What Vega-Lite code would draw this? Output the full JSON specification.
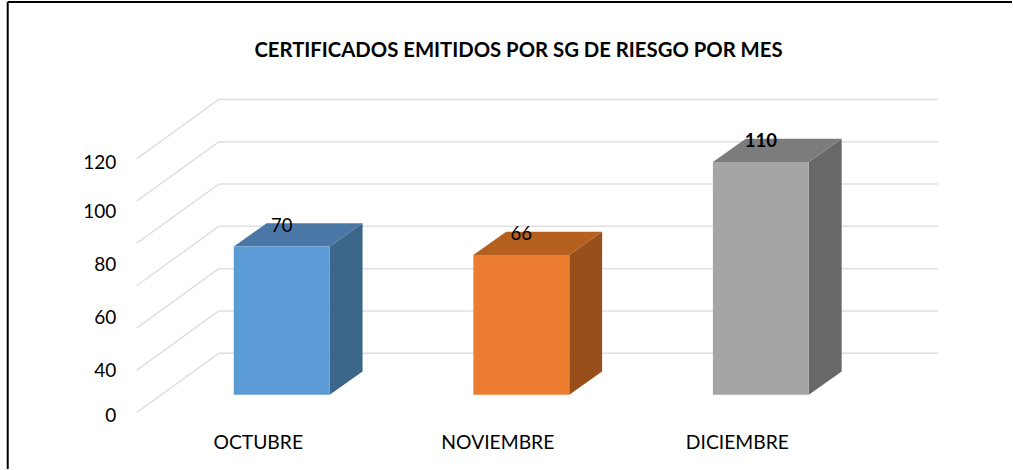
{"$schema":"https://vega.github.io/schema/vega-lite/v6.json","width":1013,"height":470,"autosize":{"type":"fit","contains":"padding"},"padding":0,"background":"white","title":{"text":"CERTIFICADOS EMITIDOS POR  SG DE RIESGO POR MES","anchor":"middle","frame":"group","offset":-61,"dx":12.5,"font":"Lato","fontSize":20.3,"fontWeight":"bold","color":"#000000"},"config":{"view":{"stroke":null}},"datasets":{"barras":[{"mes":"OCTUBRE","pos":1,"valor":70},{"mes":"NOVIEMBRE","pos":2,"valor":66},{"mes":"DICIEMBRE","pos":3,"valor":110}],"rejilla":[{"nivel":0},{"nivel":20},{"nivel":40},{"nivel":60},{"nivel":80},{"nivel":100},{"nivel":120}]},"resolve":{"scale":{"color":"independent"}},"layer":[{"data":{"name":"rejilla"},"transform":[{"calculate":"datum.nivel+19.57","as":"atras"}],"mark":{"type":"rule","color":"#E0E0E0","strokeWidth":1.5},"encoding":{"x":{"datum":0.7373,"type":"quantitative","scale":{"domain":[-0.176,4.0483],"nice":false,"zero":false},"title":null,"axis":{"title":null,"values":[0.9,1.9,2.9],"labelExpr":"{'0.9':'OCTUBRE','1.9':'NOVIEMBRE','2.9':'DICIEMBRE'}[datum.value]","domain":false,"ticks":false,"grid":false,"offset":-27,"labelPadding":0,"labelBaseline":"middle","labelFont":"Lato","labelFontSize":19.3,"labelColor":"#000000","labelOverlap":false,"labelFlush":false}},"x2":{"datum":3.7398},"y":{"field":"atras","type":"quantitative","scale":{"domain":[-35.15,186.6],"nice":false,"zero":false},"title":null,"axis":{"title":null,"values":[-9.74,11.35,36.4,61.5,86.5,109.7],"labelExpr":"{'-9.74':'0','11.35':'40','36.4':'60','61.5':'80','86.5':'100','109.7':'120'}[datum.value]","domain":false,"ticks":false,"grid":false,"offset":-136.7,"labelPadding":21,"labelFont":"Lato","labelFontSize":19,"labelColor":"#000000","labelOverlap":false,"labelFlush":false}}}},{"data":{"name":"rejilla"},"transform":[{"calculate":"datum.nivel-8.5","as":"frente"},{"calculate":"datum.nivel+19.57","as":"atras"}],"mark":{"type":"rule","color":"#E0E0E0","strokeWidth":1.5},"encoding":{"x":{"datum":0.3941,"type":"quantitative","title":null},"x2":{"datum":0.7373},"y":{"field":"frente","type":"quantitative","title":null},"y2":{"field":"atras"}}},{"data":{"values":[{"x":-0.1438,"y":185.65}]},"mark":{"type":"rule","color":"#000000","strokeWidth":2},"encoding":{"x":{"field":"x","type":"quantitative","title":null},"x2":{"datum":4.0483},"y":{"field":"y","type":"quantitative","title":null}}},{"data":{"values":[{"x":-0.1438,"y":185.65}]},"mark":{"type":"rule","color":"#000000","strokeWidth":2},"encoding":{"x":{"field":"x","type":"quantitative","title":null},"y":{"field":"y","type":"quantitative","title":null},"y2":{"datum":-35.15}}},{"data":{"name":"barras"},"transform":[{"calculate":"[0,1]","as":"t"},{"flatten":["t"]},{"calculate":"datum.pos+0.2002+0.1371*datum.t","as":"xl"},{"calculate":"datum.valor+11*datum.t","as":"sup"},{"calculate":"11*datum.t","as":"inf"}],"mark":{"type":"area","opacity":1},"encoding":{"x":{"field":"xl","type":"quantitative","title":null},"y":{"field":"sup","type":"quantitative","stack":null,"title":null},"y2":{"field":"inf"},"color":{"field":"mes","type":"nominal","legend":null,"scale":{"domain":["OCTUBRE","NOVIEMBRE","DICIEMBRE"],"range":["#3C6689","#994F1C","#686868"]}}}},{"data":{"name":"barras"},"transform":[{"calculate":"[0,1]","as":"t"},{"flatten":["t"]},{"calculate":"datum.pos-0.2002+0.1371*datum.t","as":"xa"},{"calculate":"datum.pos+0.2002+0.1371*datum.t","as":"xb"},{"calculate":"datum.valor+11*datum.t","as":"sup"}],"mark":{"type":"area","orient":"horizontal","opacity":1},"encoding":{"y":{"field":"sup","type":"quantitative","title":null},"x":{"field":"xa","type":"quantitative","stack":null,"title":null},"x2":{"field":"xb"},"color":{"field":"mes","type":"nominal","legend":null,"scale":{"domain":["OCTUBRE","NOVIEMBRE","DICIEMBRE"],"range":["#4A77A6","#B5601F","#7C7C7C"]}}}},{"data":{"name":"barras"},"transform":[{"calculate":"datum.pos-0.2002","as":"xa"},{"calculate":"datum.pos+0.2002","as":"xb"}],"mark":{"type":"rect"},"encoding":{"x":{"field":"xa","type":"quantitative","title":null},"x2":{"field":"xb"},"y":{"field":"valor","type":"quantitative","title":null},"y2":{"datum":0},"color":{"field":"mes","type":"nominal","legend":null,"scale":{"domain":["OCTUBRE","NOVIEMBRE","DICIEMBRE"],"range":["#5B9BD5","#ED7D31","#A5A5A5"]}}}},{"data":{"name":"barras"},"transform":[{"filter":"datum.valor<110"}],"mark":{"type":"text","font":"Lato","fontSize":18.5,"dy":-21,"baseline":"middle","color":"#000000"},"encoding":{"x":{"field":"pos","type":"quantitative","title":null},"y":{"field":"valor","type":"quantitative","title":null},"text":{"field":"valor","type":"quantitative"}}},{"data":{"name":"barras"},"transform":[{"filter":"datum.valor>=110"}],"mark":{"type":"text","font":"Lato","fontSize":18.5,"fontWeight":"bold","dy":-21,"baseline":"middle","color":"#000000"},"encoding":{"x":{"field":"pos","type":"quantitative","title":null},"y":{"field":"valor","type":"quantitative","title":null},"text":{"field":"valor","type":"quantitative"}}}]}
